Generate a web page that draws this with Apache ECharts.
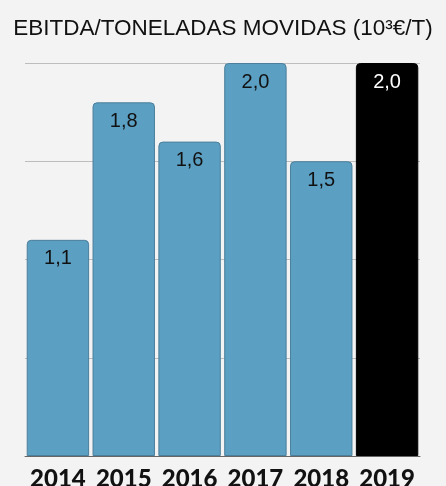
<!DOCTYPE html>
<html>
<head>
<meta charset="utf-8">
<script src="https://cdn.jsdelivr.net/npm/echarts@6/dist/echarts.min.js"></script>
<style>
html,body{margin:0;padding:0;background:#f3f3f3;}
#chart{width:446px;height:486px;}
</style>
</head>
<body>
<div id="chart"></div>
<script>
var titleText = 'EBITDA/TONELADAS MOVIDAS (10³€/T)';
var years = ['2014', '2015', '2016', '2017', '2018', '2019'];
var values = [1.1, 1.8, 1.6, 2.0, 1.5, 2.0];
var highlightYear = '2019';

var chart = echarts.init(document.getElementById('chart'), null, {renderer: 'canvas'});
var data = values.map(function (v, i) {
  var hi = years[i] === highlightYear;
  return {
    value: v,
    itemStyle: hi ? {color: '#000000', borderColor: '#000000'} : {},
    label: hi ? {color: '#ffffff'} : {}
  };
});
chart.setOption({
  backgroundColor: '#f3f3f3',
  animation: false,
  title: {
    text: titleText,
    left: 'center',
    top: 12,
    textStyle: {fontFamily: 'Liberation Sans', fontSize: 22.5, fontWeight: 'normal', color: '#111111'}
  },
  grid: {left: 25, right: 26, top: 63, bottom: 30, containLabel: false, outerBoundsMode: 'none'},
  xAxis: {
    type: 'category',
    data: years,
    axisLine: {show: true, lineStyle: {color: '#666666', width: 1}},
    axisTick: {show: false},
    axisLabel: {interval: 0, fontFamily: 'Lato', fontWeight: 900, fontSize: 24, color: '#111111', margin: 11}
  },
  yAxis: {
    type: 'value',
    min: 0,
    max: 2,
    interval: 0.5,
    axisLabel: {show: false},
    axisLine: {show: false},
    axisTick: {show: false},
    splitLine: {show: true, lineStyle: {color: '#bdbdbd', width: 1}}
  },
  series: [{
    type: 'bar',
    data: data,
    barCategoryGap: '5.2%',
    itemStyle: {color: '#5b9fc2', borderColor: '#4b7f9b', borderWidth: 1, borderRadius: [4, 4, 0, 0]},
    label: {
      show: true,
      position: 'insideTop',
      distance: 9,
      fontFamily: 'Liberation Sans',
      fontSize: 20,
      color: '#111111',
      formatter: function (p) { return p.value.toFixed(1).replace('.', ','); }
    }
  }]
});
</script>
</body>
</html>
